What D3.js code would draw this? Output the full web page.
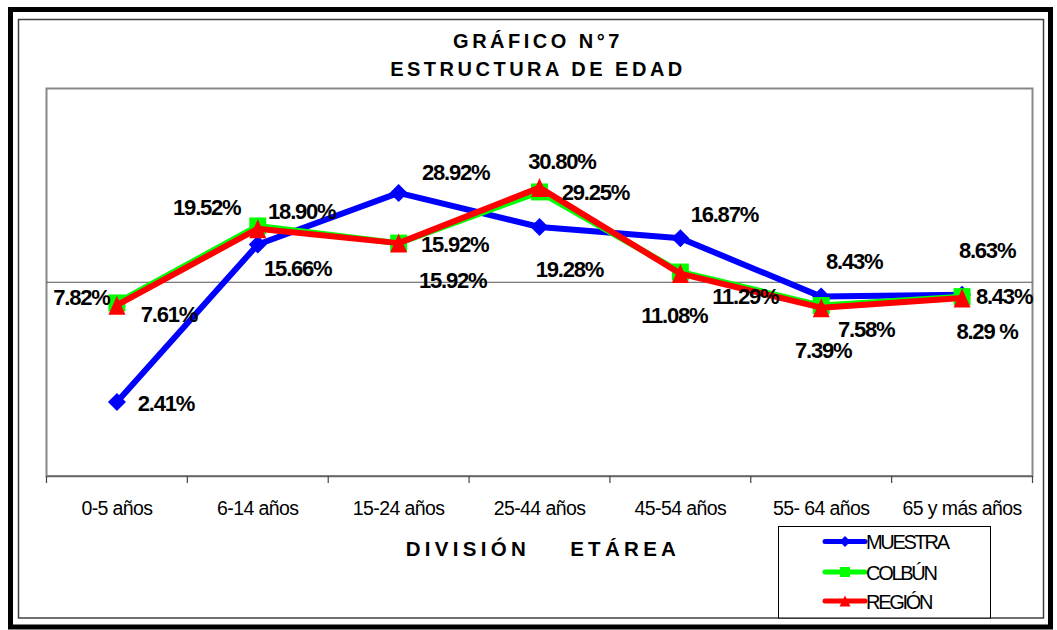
<!DOCTYPE html>
<html>
<head>
<meta charset="utf-8">
<script src="https://cdn.jsdelivr.net/npm/d3@7"></script>
<style>
  body { margin: 0; background: #fff; }
  text { font-family: Arial, "Liberation Sans", sans-serif; }
</style>
</head>
<body>
<script>
// data
const categories = ["0-5 años", "6-14 años", "15-24 años", "25-44 años", "45-54 años", "55- 64 años", "65 y más años"];
const seriesNames = ["MUESTRA", "COLBÚN", "REGIÓN"];
const muestra = [2.41, 15.66, 28.92, 19.28, 16.87, 8.43, 8.63];
const colbun  = [7.82, 19.52, 15.92, 29.25, 11.29, 7.58, 8.43];
const region  = [7.61, 18.90, 15.92, 30.80, 11.08, 7.39, 8.29];
const muestraLabels = ["2.41%", "15.66%", "28.92%", "19.28%", "16.87%", "8.43%", "8.63%"];
const colbunLabels  = ["7.82%", "19.52%", "15.92%", "29.25%", "11.29%", "7.58%", "8.43%"];
const regionLabels  = ["7.61%", "18.90%", "15.92%", "30.80%", "11.08%", "7.39%", "8.29 %"];
const gridTicks = [10];

// where each value label sits, relative to its point (dx = centre, dy = baseline)
const muestraOff = [[49, 9], [40, 31.5], [57, -13], [30, 50], [44, -16], [33, -28], [25, -37]];
const colbunOff  = [[-35.5, 2], [-51, -11], [56, 9], [56, 8], [65, 32], [45, 31], [42, 7]];
const regionOff  = [[52, 17], [44, -10], [54, 45], [22.5, -18.6], [-6, 49], [2, 50], [25, 41]];

const w = 1057, h = 630;
const plot = {left: 46.5, right: 1032.5, top: 88.5, bottom: 476};

const svg = d3.select("body").append("svg")
  .attr("width", w)
  .attr("height", h);

svg.append("rect").attr("width", w).attr("height", h).attr("fill", "#fff");

// frames
svg.append("rect")
  .attr("x", 10.5).attr("y", 9.5).attr("width", 1040).attr("height", 617.5)
  .attr("fill", "none").attr("stroke", "#000").attr("stroke-width", 5);
svg.append("rect")
  .attr("x", 18.5).attr("y", 19.5).attr("width", 1025).attr("height", 598.5)
  .attr("fill", "none").attr("stroke", "#404040").attr("stroke-width", 1.5);

const x = d3.scaleBand().domain(categories).range([plot.left, plot.right]);
const y = d3.scaleLog().domain([1, 100]).range([plot.bottom, plot.top]);

// plot area
svg.append("rect")
  .attr("x", plot.left).attr("y", plot.top)
  .attr("width", plot.right - plot.left).attr("height", plot.bottom - plot.top)
  .attr("fill", "none").attr("stroke", "#888").attr("stroke-width", 2);

svg.selectAll(".grid").data(gridTicks).enter().append("line")
  .attr("class", "grid")
  .attr("x1", plot.left).attr("x2", plot.right)
  .attr("y1", d => y(d)).attr("y2", d => y(d))
  .attr("stroke", "#555").attr("stroke-width", 1.2);

// x axis
const xAxis = svg.append("g")
  .attr("transform", `translate(0,${plot.bottom})`)
  .call(d3.axisBottom(x).tickSize(0).tickPadding(25));
xAxis.select(".domain").attr("stroke", "#666").attr("stroke-width", 1.5);
xAxis.selectAll("text")
  .attr("font-size", 19.5).attr("letter-spacing", -0.6)
  .attr("font-family", "Arial, 'Liberation Sans', sans-serif")
  .attr("fill", "#000");

const bounds = categories.map(c => x(c)).concat([plot.right]);
svg.selectAll(".btick").data(bounds).enter().append("line")
  .attr("class", "btick")
  .attr("x1", d => d).attr("x2", d => d)
  .attr("y1", plot.bottom).attr("y2", plot.bottom + 7)
  .attr("stroke", "#444").attr("stroke-width", 1.2);

// titles
svg.append("text").attr("x", 538).attr("y", 48).attr("text-anchor", "middle")
  .attr("font-size", 20).attr("font-weight", "bold").attr("letter-spacing", 3.5)
  .text("GRÁFICO N°7");
svg.append("text").attr("x", 538).attr("y", 76).attr("text-anchor", "middle")
  .attr("font-size", 20).attr("font-weight", "bold").attr("letter-spacing", 3.5)
  .text("ESTRUCTURA DE EDAD");
svg.append("text").attr("x", 543).attr("y", 556).attr("text-anchor", "middle")
  .attr("font-size", 20.5).attr("font-weight", "bold").attr("letter-spacing", 4.3)
  .style("white-space", "pre")
  .text("DIVISIÓN    ETÁREA");

// marker shapes
const diamond = s => `M0,${-s}L${s},0L0,${s}L${-s},0Z`;
const square = s => `M${-s},${-s}H${s}V${s}H${-s}Z`;
const triangle = (s, t) => `M0,${-t}L${s},${t}L${-s},${t}Z`;

const series = [
  {name: seriesNames[0], values: muestra, labels: muestraLabels, off: muestraOff, color: "#0000ff",
   marker: diamond(9), legendMarker: diamond(5.5)},
  {name: seriesNames[1], values: colbun, labels: colbunLabels, off: colbunOff, color: "#00ff00",
   marker: square(8.5), legendMarker: square(5)},
  {name: seriesNames[2], values: region, labels: regionLabels, off: regionOff, color: "#ff0000",
   marker: triangle(8.5, 9.5), legendMarker: triangle(5.5, 5.5)}
];

const line = d3.line()
  .x((d, i) => x(categories[i]) + x.bandwidth() / 2)
  .y(d => y(d));

series.forEach(s => {
  svg.append("path")
    .datum(s.values)
    .attr("d", line)
    .attr("fill", "none")
    .attr("stroke", s.color)
    .attr("stroke-width", 6)
    .attr("stroke-linejoin", "round");
  svg.selectAll(null).data(s.values).enter().append("path")
    .attr("d", s.marker)
    .attr("transform", (d, i) => `translate(${x(categories[i]) + x.bandwidth() / 2},${y(d)})`)
    .attr("fill", s.color);
});

// value labels
series.forEach(s => {
  svg.selectAll(null).data(s.values).enter().append("text")
    .attr("x", (d, i) => x(categories[i]) + x.bandwidth() / 2 + s.off[i][0])
    .attr("y", (d, i) => y(d) + s.off[i][1])
    .attr("text-anchor", "middle")
    .attr("font-size", 22).attr("font-weight", "bold").attr("letter-spacing", -1.2)
    .text((d, i) => s.labels[i]);
});

// legend
const lg = svg.append("g");
lg.append("rect")
  .attr("x", 778.5).attr("y", 526.5).attr("width", 212).attr("height", 91.5)
  .attr("fill", "#fff").attr("stroke", "#000").attr("stroke-width", 1);
const rows = [541.5, 572, 601];
series.forEach((s, i) => {
  lg.append("line")
    .attr("x1", 825).attr("x2", 865).attr("y1", rows[i]).attr("y2", rows[i])
    .attr("stroke", s.color).attr("stroke-width", 5).attr("stroke-linecap", "round");
  lg.append("path").attr("d", s.legendMarker)
    .attr("transform", `translate(845,${rows[i]})`).attr("fill", s.color);
  lg.append("text")
    .attr("x", 866).attr("y", rows[i] + 7.5)
    .attr("font-size", 20).attr("letter-spacing", -2.3)
    .text(s.name);
});
</script>
</body>
</html>
